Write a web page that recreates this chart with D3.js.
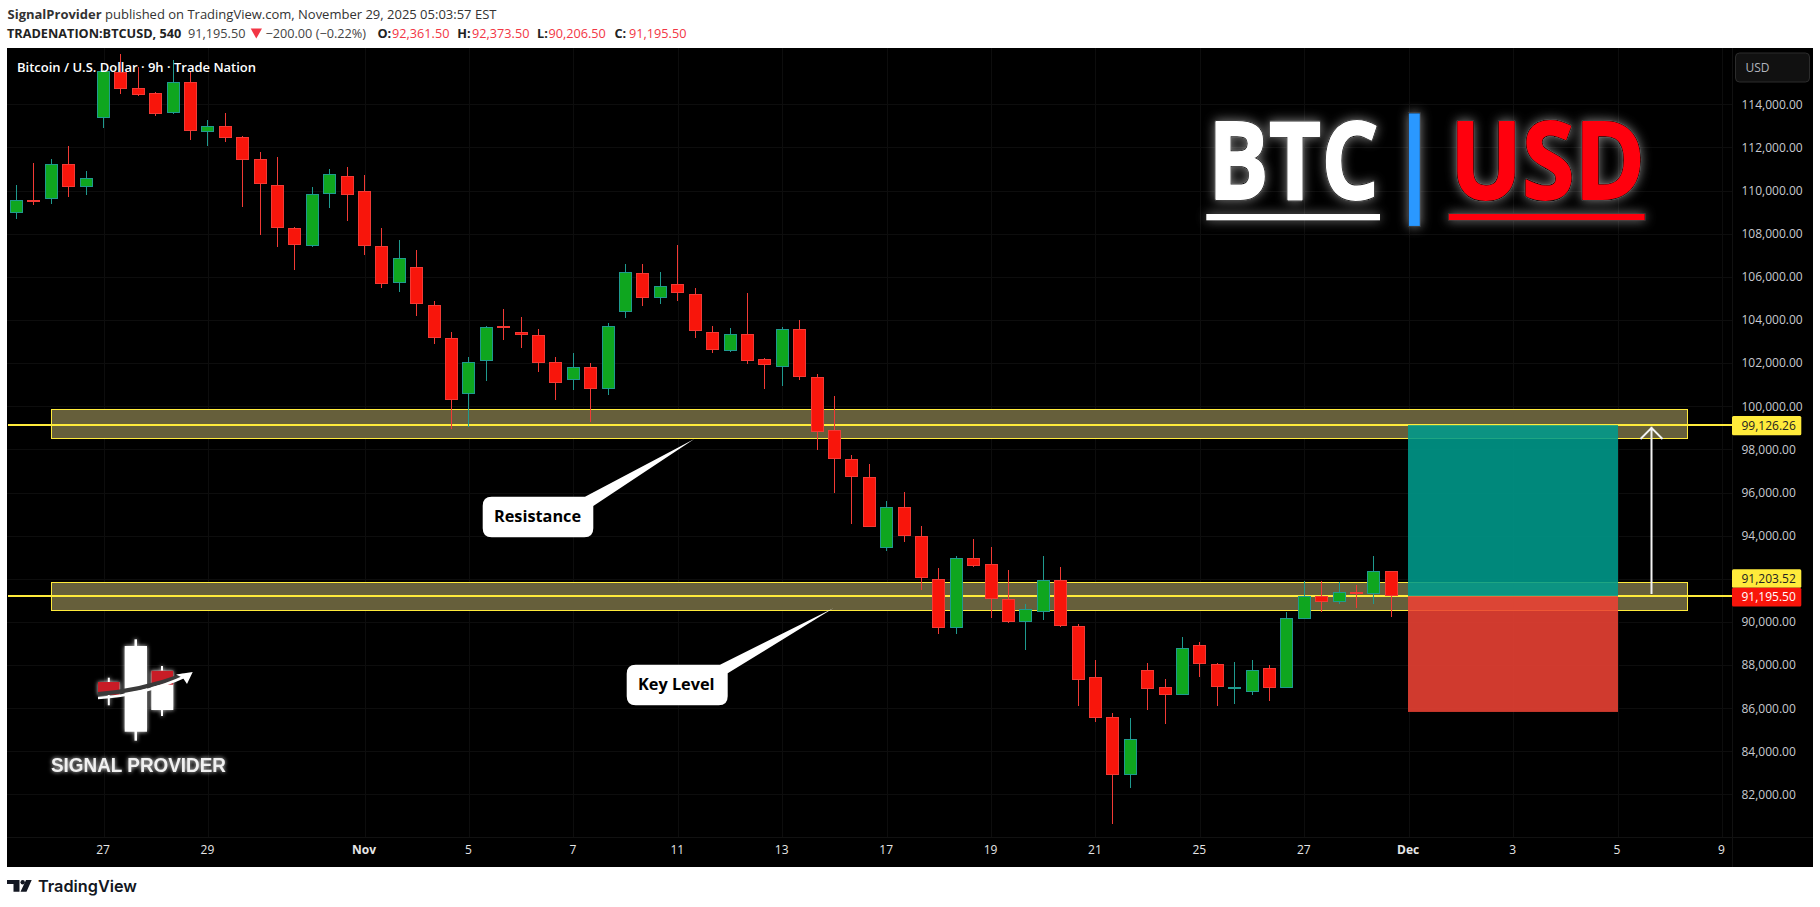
<!DOCTYPE html>
<html><head><meta charset="utf-8">
<script src="https://cdn.jsdelivr.net/npm/d3@7"></script>
<style>html,body{margin:0;padding:0;background:#fff}svg{display:block}text{font-family:"Open Sans",sans-serif}</style>
</head><body><svg id="c" width="1820" height="907"></svg>
<script>
const opens=[108946,109549,109595,111218,110133,113351,115510,114740,114510,113560,115020,112700,112980,112470,111450,110240,108250,107440,109830,110660,109970,107420,105680,106440,104680,103150,100540,102070,103710,103430,103290,102040,101230,101810,100770,104340,106170,104990,105660,105190,103430,102530,103340,102180,101790,103570,101340,98890,97540,96710,93420,95320,93970,91980,89710,92950,92670,91050,89970,90450,91930,89800,87440,85580,82890,87760,86970,86600,88920,88040,86970,86740,87850,86930,90120,91190,90910,91380,91280,92361.5];
const highs=[110258,111278,111464,112066,110907,115570,116330,115740,114570,116050,115510,113270,113600,112530,111770,111560,108310,110170,111000,111090,110720,108270,107710,107250,104880,103440,102280,103720,104510,104140,103580,102280,102470,102010,103860,106600,106600,106210,107480,105480,103720,103630,105250,102240,103680,104000,101500,100480,97740,97320,95610,96030,94450,92500,93060,93850,93480,92410,90830,93060,92550,89910,88240,85770,85540,88100,87360,89300,89070,88100,88150,88240,88010,90460,91900,91900,91850,91710,93060,92373.5];
const lows=[108696,109345,109391,109716,109809,112915,114490,114400,113470,113560,112360,112080,112270,109250,107940,107400,106320,107400,109210,108590,107010,105500,105300,104200,102900,98960,99030,101190,103090,102720,101600,100310,100770,99290,100540,104110,104660,104760,104900,103180,102480,102530,101970,100820,100950,101230,97990,95990,94540,94390,93310,93720,91500,89460,89460,92560,90200,89970,88720,90110,89780,86120,85380,80650,82320,85930,85280,86600,87460,86120,86210,86630,86350,86930,90120,90480,90850,90660,90850,90206.5];
const closes=[109549,109484,111218,110152,110569,115530,114720,114400,113520,115020,112730,112980,112420,111400,110290,108250,107440,109830,110750,109780,107400,105680,106860,104710,103130,100260,102040,103660,103600,103270,101970,101050,101810,100770,103710,106210,104990,105560,105220,103460,102580,103340,102110,101880,103570,101330,98790,97540,96710,94390,95320,93970,92010,89710,92950,92560,91050,89970,90590,91930,89780,87300,85540,82890,84560,86860,86600,88780,88040,86970,87000,87760,86930,90170,91190,90910,91380,91280,92350,91195.5];
const priceTicks=[82000,84000,86000,88000,90000,92000,94000,96000,98000,100000,102000,104000,106000,108000,110000,112000,114000];
const dateTicks=[5,11,20,26,32,38,44,50,56,62,68,74,80,86,92,98];
const dateLabels=["27","29","Nov","5","7","11","13","17","19","21","25","27","Dec","3","5","9"];
const zones=[[98497,99860],[90541,91839]];
const levels=[99126.26,91195.5];
const targetPrice=99126.26, entryPrice=91195.5, stopPrice=85827;

const svg=d3.select("#c");
const y=d3.scaleLinear().domain([86000,114000]).range([708.2,104.3]);
const x=d3.scaleLinear().domain([0,79]).range([16.5,1391.3]);
const GREEN="#0fa61f",GREENB="#1f9a8f",RED="#f8150b",REDB="#f23a35",YEL="#ffeb3b";

const defs=svg.append("defs");
function glow(id,dev,op){
  const f=defs.append("filter").attr("id",id).attr("x","-30%").attr("y","-60%").attr("width","160%").attr("height","220%");
  f.append("feGaussianBlur").attr("in","SourceAlpha").attr("stdDeviation",dev).attr("result","b");
  f.append("feFlood").attr("flood-color","#fff").attr("flood-opacity",op).attr("result","c");
  f.append("feComposite").attr("in","c").attr("in2","b").attr("operator","in").attr("result","g");
  const m=f.append("feMerge");m.append("feMergeNode").attr("in","g");m.append("feMergeNode").attr("in","SourceGraphic");
}
glow("g1",5.5,.5);glow("g2",2,.85);
defs.append("clipPath").attr("id","clipChart").append("rect").attr("x",7).attr("y",48).attr("width",1725).attr("height",789);

// background
svg.append("rect").attr("x",7).attr("y",48).attr("width",1806).attr("height",819).attr("fill","#000");

// grid
const grid=svg.append("g").attr("shape-rendering","crispEdges").attr("stroke","#0d0d0d");
grid.selectAll("line.h").data(priceTicks).join("line").attr("x1",7).attr("x2",1732).attr("y1",d=>Math.round(y(d))+.5).attr("y2",d=>Math.round(y(d))+.5);
grid.selectAll("line.v").data(dateTicks).join("line").attr("y1",48).attr("y2",837).attr("x1",d=>Math.round(x(d))+.5).attr("x2",d=>Math.round(x(d))+.5);
svg.append("line").attr("x1",1732).attr("x2",1732).attr("y1",48).attr("y2",867).attr("stroke","#111").attr("shape-rendering","crispEdges");
svg.append("line").attr("x1",7).attr("x2",1813).attr("y1",837).attr("y2",837).attr("stroke","#111").attr("shape-rendering","crispEdges");

// zones
svg.append("g").selectAll("rect").data(zones).join("rect")
  .attr("x",51.5).attr("width",1636).attr("y",d=>Math.round(y(d[1]))+.5).attr("height",d=>Math.round(y(d[0])-y(d[1])))
  .attr("fill","#665f3b").attr("stroke",YEL).attr("stroke-width",1).attr("shape-rendering","crispEdges");
svg.append("g").selectAll("rect").data(levels).join("rect")
  .attr("x",8).attr("width",1724).attr("y",d=>Math.round(y(d))-1).attr("height",2).attr("fill",YEL).attr("shape-rendering","crispEdges");

// candles
const idx=d3.range(opens.length);
const cg=svg.append("g").attr("clip-path","url(#clipChart)").attr("shape-rendering","crispEdges");
const cx=i=>Math.floor(x(i))+.5;
cg.selectAll("line").data(idx).join("line")
  .attr("x1",cx).attr("x2",cx).attr("y1",i=>y(highs[i])).attr("y2",i=>y(lows[i]))
  .attr("stroke",i=>closes[i]>=opens[i]?GREENB:REDB);
cg.selectAll("rect").data(idx).join("rect")
  .attr("x",i=>cx(i)-6).attr("width",12)
  .attr("y",i=>Math.round(y(Math.max(opens[i],closes[i])))+.5)
  .attr("height",i=>Math.max(1,Math.round(Math.abs(y(opens[i])-y(closes[i])))-1))
  .attr("fill",i=>closes[i]>=opens[i]?GREEN:RED)
  .attr("stroke",i=>closes[i]>=opens[i]?GREENB:REDB);

// risk reward box
svg.append("rect").attr("x",1408).attr("width",210).attr("y",y(targetPrice)).attr("height",y(entryPrice)-y(targetPrice)).attr("fill","rgb(0,155,140)").attr("fill-opacity",.88);
svg.append("rect").attr("x",1408).attr("width",210).attr("y",y(entryPrice)).attr("height",y(stopPrice)-y(entryPrice)).attr("fill","rgb(237,66,52)").attr("fill-opacity",.88);

// arrow
const ax=1651.5;
svg.append("path").attr("d",`M${ax},${y(91300)}L${ax},${y(99050)}M${ax-11},${y(98480)}L${ax},${y(99000)}L${ax+11},${y(98480)}`)
  .attr("fill","none").attr("stroke","#f2f2f2").attr("stroke-width",2);

// callouts
function callout(x0,x1,y0,y1,bx,by0,bx2,by2,tx,ty,label,textX,textY){
  const r=9;
  const d=`M${x0+r},${y0}L${bx},${by0}L${tx},${ty}L${bx2},${by2}L${x1},${y1-r}Q${x1},${y1} ${x1-r},${y1}L${x0+r},${y1}Q${x0},${y1} ${x0},${y1-r}L${x0},${y0+r}Q${x0},${y0} ${x0+r},${y0}Z`;
  svg.append("path").attr("d",d).attr("fill","#fff");
  svg.append("text").attr("x",textX).attr("y",textY).attr("dy",".35em").attr("font-size",16.3).attr("font-weight",700).attr("fill","#000").text(label);
}
callout(482.7,593.3,496.7,537.3,585,496.7,593.3,506,694.3,439,"Resistance",494,516);
callout(626.7,727.7,664.7,705.3,720,664.7,727.7,673.3,833.3,608.3,"Key Level",638,684.3);

// BTC | USD logo
const logo=svg.append("g").attr("filter","url(#g1)");
function bigText(xp,len,fill,label){
  logo.append("text").attr("x",xp).attr("y",198.5).attr("font-size",107).attr("font-weight",700).attr("fill",fill).attr("stroke","#111").attr("stroke-width",3.6).attr("stroke-linejoin","round")
    .attr("textLength",len).attr("lengthAdjust","spacingAndGlyphs").text(label);
  logo.append("text").attr("x",xp).attr("y",198.5).attr("font-size",107).attr("font-weight",700).attr("fill",fill).attr("stroke",fill).attr("stroke-width",1.8).attr("stroke-linejoin","round")
    .attr("textLength",len).attr("lengthAdjust","spacingAndGlyphs").text(label);
}
bigText(1208,171,"#fff","BTC");
logo.append("rect").attr("x",1206.3).attr("y",214).attr("width",173.7).attr("height",6.3).attr("fill","#fff");
logo.append("rect").attr("x",1408.4).attr("y",113).attr("width",11.8).attr("height",113.3).attr("fill","#2b98ff").attr("stroke","#111").attr("stroke-width",.7);
bigText(1450,195,"#ff000f","USD");
logo.append("rect").attr("x",1448.3).attr("y",213.7).attr("width",196.7).attr("height",6.6).attr("fill","#ff000f").attr("stroke","#111").attr("stroke-width",.6);

// SIGNAL PROVIDER logo
const lg=svg.append("g").attr("filter","url(#g2)");
lg.append("text").attr("x",51).attr("y",772.3).attr("font-size",19.5).attr("font-weight",700).attr("fill","#f0f0f0")
  .style("font-family","'Liberation Sans',sans-serif").attr("textLength",175).attr("lengthAdjust","spacingAndGlyphs").text("SIGNAL PROVIDER");
const lc=svg.append("g").attr("filter","url(#g2)");
lc.append("rect").attr("x",134.5).attr("y",639.3).attr("width",2.5).attr("height",101.4).attr("fill","#fff");
lc.append("rect").attr("x",124.7).attr("y",646).attr("width",22.3).attr("height",85.7).attr("fill","#fff");
lc.append("rect").attr("x",107.8).attr("y",677.7).attr("width",2).attr("height",27.6).attr("fill","#fff");
lc.append("rect").attr("x",98).attr("y",682).attr("width",21.7).attr("height",13).attr("fill","#c81e28");
lc.append("rect").attr("x",161).attr("y",666).attr("width",2).attr("height",50).attr("fill","#fff");
lc.append("rect").attr("x",151.3).attr("y",684).attr("width",22).attr("height",26).attr("fill","#fff");
lc.append("rect").attr("x",151.3).attr("y",670.7).attr("width",22).attr("height",14).attr("fill","#c81e28");
svg.append("path").attr("d","M98,694 Q140,691 184,675").attr("fill","none").attr("stroke","#3a3a3a").attr("stroke-width",4);
svg.append("path").attr("d","M98,698 Q145,695 186,676").attr("fill","none").attr("stroke","#fff").attr("stroke-width",2.6);
svg.append("path").attr("d","M192.7,672L176,674.5L183,678L187,684Z").attr("fill","#fff");

// axes
const yAxis=d3.axisRight(y).tickValues(priceTicks).tickSize(0).tickPadding(0).tickFormat(d3.format(",.2f"));
const ya=svg.append("g").attr("transform","translate(1741.5,0)").call(yAxis);
ya.select(".domain").remove();
ya.selectAll("text").attr("font-size",12).attr("fill","#c8cad0").style("font-family","'Open Sans',sans-serif");
const xAxis=d3.axisBottom(x).tickValues(dateTicks).tickSize(0).tickPadding(0).tickFormat((d,i)=>dateLabels[i]);
const xa=svg.append("g").attr("transform","translate(-1,845)").call(xAxis);
xa.select(".domain").remove();
xa.selectAll("text").attr("font-size",12).attr("fill","#e6e6e6").attr("font-weight",(d,i)=>/[A-Za-z]/.test(dateLabels[i])?700:400).style("font-family","'Open Sans',sans-serif");

// price labels
const tags=[["99,126.26",416,19.3,YEL,"#222"],["91,203.52",569.3,18.4,YEL,"#222"],["91,195.50",587.7,18.9,RED,"#fff"]];
const tg=svg.append("g");
tags.forEach(t=>{
  tg.append("rect").attr("x",1732).attr("y",t[1]).attr("width",69.3).attr("height",t[2]).attr("rx",1.5).attr("fill",t[3]);
  tg.append("text").attr("x",1741.5).attr("y",t[1]+t[2]/2).attr("dy",".35em").attr("font-size",12).attr("fill",t[4]).text(t[0]);
});

// USD box
svg.append("rect").attr("x",1735.5).attr("y",53).attr("width",74).attr("height",29).attr("rx",4).attr("fill","#111").attr("stroke","#2c2c2c");
svg.append("text").attr("x",1745.5).attr("y",67.6).attr("dy",".35em").attr("font-size",12).attr("fill","#b2b5be").text("USD");

// title
svg.append("text").attr("x",17).attr("y",67.7).attr("dy",".35em").attr("font-size",13).attr("font-weight",600).attr("fill","#fff").text("Bitcoin / U.S. Dollar · 9h · Trade Nation");

// header
const h1=svg.append("text").attr("x",7.5).attr("y",14.3).attr("dy",".35em").attr("font-size",13).attr("fill","#333");
h1.append("tspan").attr("font-weight",700).text("SignalProvider");
h1.append("tspan").text(" published on TradingView.com, November 29, 2025 05:03:57 EST");
const hdr=(xp,txt,fill,w)=>svg.append("text").attr("x",xp).attr("y",33.3).attr("dy",".35em").attr("font-size",12.7).attr("fill",fill).attr("font-weight",w||400).text(txt);
hdr(7,"TRADENATION:BTCUSD, 540","#222",700);
hdr(188,"91,195.50","#444");
svg.append("path").attr("d","M250.7,28.5L262,28.5L256.3,38.5Z").attr("fill","#f23645");
hdr(265.5,"−200.00 (−0.22%)","#444");
hdr(377.5,"O:","#222",700);hdr(392,"92,361.50","#f23645");
hdr(457.3,"H:","#222",700);hdr(472,"92,373.50","#f23645");
hdr(537,"L:","#222",700);hdr(548.4,"90,206.50","#f23645");
hdr(614.5,"C:","#222",700);hdr(629,"91,195.50","#f23645");

// TradingView logo
svg.append("path").attr("d","M7,880H19.5V891.7H13.5V884H7Z M26,880H31.7L26.5,891.7H20.5Z").attr("fill","#131722");
svg.append("circle").attr("cx",22.7).attr("cy",882.2).attr("r",2.2).attr("fill","#131722");
svg.append("text").attr("x",38).attr("y",886.7).attr("dy",".35em").attr("font-size",16.5).attr("font-weight",600).attr("fill","#131722").style("font-family","Inter,sans-serif").attr("textLength",99).attr("lengthAdjust","spacingAndGlyphs").text("TradingView");
</script></body></html>
